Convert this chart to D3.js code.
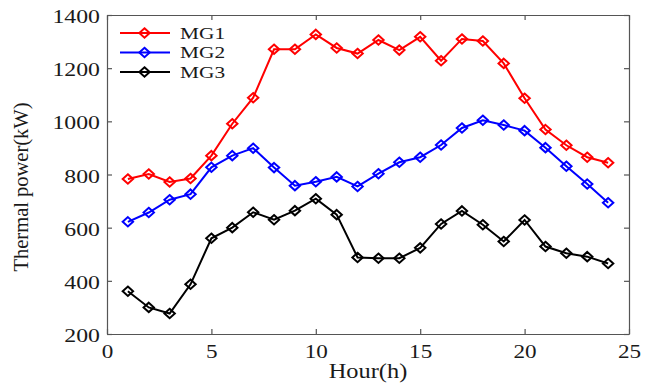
<!DOCTYPE html>
<html><head><meta charset="utf-8">
<script src="https://cdn.jsdelivr.net/npm/d3@7"></script>
<style>body{margin:0;background:#fff}svg{display:block}</style>
</head><body>
<script>
const hours = [1,2,3,4,5,6,7,8,9,10,11,12,13,14,15,16,17,18,19,20,21,22,23,24];
const mg1 = [783,802,772,785,871,991,1089,1271,1271,1327,1276,1255,1306,1268,1318,1228,1310,1302,1218,1087,969,910,865,844];
const mg2 = [622,657,705,726,827,871,899,826,758,773,791,755,803,846,865,911,975,1004,986,965,901,831,764,694];
const mg3 = [361,300,277,387,560,600,658,630,664,709,649,488,485,485,524,614,663,611,548,629,529,504,491,465];
const seriesNames = ["MG1","MG2","MG3"];
const seriesColors = ["#ff0000","#0000ff","#000000"];
const xTicks = [0,5,10,15,20,25];
const yTicks = [200,400,600,800,1000,1200,1400];

const W = 646, H = 385;
const L = 107, R = 629, T = 15, B = 334;
const SX = 1.22;
const svg = d3.select("body").append("svg").attr("width", W).attr("height", H);
const x = d3.scaleLinear().domain([0,25]).range([L,R]);
const y = d3.scaleLinear().domain([200,1400]).range([B,T]);
const font = "'Liberation Serif','Times New Roman',serif";
const axisColor = "#555";

function styleAxis(g){
  g.selectAll("path.domain").attr("stroke", axisColor).attr("stroke-width",1.2);
  g.selectAll(".tick line").attr("stroke", axisColor).attr("stroke-width",1.2);
}
// bottom
const gb = svg.append("g").attr("transform",`translate(0,${B})`)
  .call(d3.axisBottom(x).tickValues(xTicks).tickSize(-5).tickSizeOuter(0).tickFormat(d3.format("d")));
styleAxis(gb);
gb.selectAll(".tick text").attr("dy",null).attr("y",24).attr("font-family",font).attr("font-size",19)
  .attr("fill","#1a1a1a").attr("transform",`scale(${SX},1)`);
// top
const gt = svg.append("g").attr("transform",`translate(0,${T})`)
  .call(d3.axisTop(x).tickValues(xTicks).tickSize(-5).tickSizeOuter(0).tickFormat(""));
styleAxis(gt);
// left
const gl = svg.append("g").attr("transform",`translate(${L},0)`)
  .call(d3.axisLeft(y).tickValues(yTicks).tickSize(-5).tickSizeOuter(0).tickFormat(d3.format("d")));
styleAxis(gl);
gl.selectAll(".tick text").attr("dy",null).attr("y",7.5).attr("x",-7/SX).attr("font-family",font).attr("font-size",19.5)
  .attr("fill","#1a1a1a").attr("transform",`scale(${SX},1)`);
// right
const gr = svg.append("g").attr("transform",`translate(${R},0)`)
  .call(d3.axisRight(y).tickValues(yTicks).tickSize(-5).tickSizeOuter(0).tickFormat(""));
styleAxis(gr);

const allSeries = [mg1, mg2, mg3];
const line = d3.line().x((d,i)=>x(hours[i])).y(d=>y(d));
const diamond = (cx,cy) => `M${cx},${cy-4.7}L${cx+5.2},${cy}L${cx},${cy+4.7}L${cx-5.2},${cy}Z`;

allSeries.forEach((s,k)=>{
  const g = svg.append("g");
  g.append("path").datum(s).attr("d",line).attr("fill","none").attr("stroke",seriesColors[k]).attr("stroke-width",2);
  g.selectAll("path.m").data(s).enter().append("path").attr("class","m")
    .attr("d",(d,i)=>diamond(x(hours[i]),y(d))).attr("fill","none")
    .attr("stroke",seriesColors[k]).attr("stroke-width",2);
});

// legend
const legY = [33, 52.5, 72];
seriesNames.forEach((n,k)=>{
  const g = svg.append("g");
  g.append("line").attr("x1",120).attr("x2",170).attr("y1",legY[k]).attr("y2",legY[k])
    .attr("stroke",seriesColors[k]).attr("stroke-width",2);
  g.append("path").attr("d",diamond(144.5,legY[k])).attr("fill","none").attr("stroke",seriesColors[k]).attr("stroke-width",2);
  g.append("text").attr("x",180/SX).attr("y",legY[k]+6).attr("transform",`scale(${SX},1)`)
    .attr("font-family",font).attr("font-size",17.5).attr("fill","#1a1a1a").text(n);
});

// axis titles
svg.append("text").attr("x",(L+R)/2/SX).attr("y",378).attr("transform",`scale(${SX},1)`)
  .attr("text-anchor","middle").attr("font-family",font).attr("font-size",20).attr("fill","#1a1a1a").text("Hour(h)");
svg.append("text").attr("transform","translate(28,187) rotate(-90)")
  .attr("text-anchor","middle").attr("font-family",font).attr("font-size",20.5).attr("fill","#1a1a1a").text("Thermal power(kW)");
</script>
</body></html>
